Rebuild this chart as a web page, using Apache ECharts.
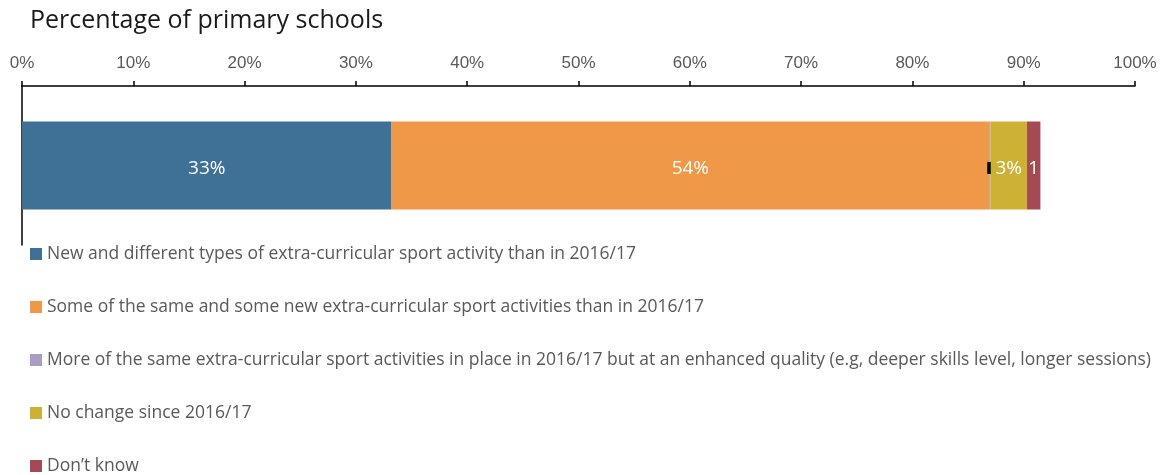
<!DOCTYPE html>
<html>
<head>
<meta charset="utf-8">
<script src="https://cdn.jsdelivr.net/npm/echarts@6/dist/echarts.min.js"></script>
<style>
  html, body { margin: 0; padding: 0; background: #fff; }
  #chart { width: 1164px; height: 475px; }
</style>
</head>
<body>
<div id="chart"></div>
<script>
// 資料
const categories = ["Primary schools"];
const seriesNames = [
  "New and different types of extra-curricular sport activity than in 2016/17",
  "Some of the same and some new extra-curricular sport activities than in 2016/17",
  "More of the same extra-curricular sport activities in place in 2016/17 but at an enhanced quality (e.g, deeper skills level, longer sessions)",
  "No change since 2016/17",
  "Don\u2019t know"
];
const seriesValues = [33.2, 53.7, 0.1, 3.3, 1.2];
const seriesColors = ["#3F7095", "#EE9848", "#A89CC2", "#CCB133", "#A34A55"];
const tickLabels = ["0%", "10%", "20%", "30%", "40%", "50%", "60%", "70%", "80%", "90%", "100%"];

const chart = echarts.init(document.getElementById("chart"));

const seriesArr = [];
seriesNames.forEach((name, i) => {
  seriesArr.push({
    name: name,
    type: "bar",
    stack: "total",
    barWidth: 88,
    data: [seriesValues[i]],
    itemStyle: { color: seriesColors[i] },
    label: i === 2
      ? {
          // 很小的那一段，原圖只看得到一個黑色的小記號
          show: true,
          position: "inside",
          color: "#000",
          fontSize: 10,
          fontWeight: "bold",
          offset: [1, 3],
          formatter: "\u258C",
        }
      : {
          show: true,
          position: "inside",
          color: "#fff",
          fontSize: 19,
          fontFamily: "Open Sans",
          overflow: "truncate",
          ellipsis: "",
          width: i === 4 ? 16 : 90,
          offset: [0, 3],
          formatter: (p) => Math.round(p.value) + "%",
        },
  });
});

const option = {
  animation: false,
  title: {
    text: "Percentage of primary schools",
    left: 25,
    top: 3,
    textStyle: { fontSize: 25, fontWeight: "normal", color: "#1a1a1a", fontFamily: "Open Sans" },
  },
  legend: {
    orient: "vertical",
    left: 25,
    top: 239,
    height: 300,
    icon: "rect",
    itemWidth: 12,
    itemHeight: 12,
    itemGap: 33,
    data: seriesNames,
    textStyle: { fontSize: 17.5, color: "#595959", fontFamily: "Open Sans", lineHeight: 20 },
  },
  grid: { left: 22, right: 29, top: 86, bottom: 230 },
  xAxis: {
    type: "value",
    position: "top",
    min: 0,
    max: 100,
    interval: 10,
    splitLine: { show: false },
    axisLine: { show: true, lineStyle: { color: "#000", width: 1.5 } },
    axisTick: { show: true, length: 5, lineStyle: { color: "#000", width: 1.5 } },
    axisLabel: {
      color: "#595959",
      fontSize: 17,
      fontFamily: "Liberation Sans",
      margin: 14,
      formatter: (v) => tickLabels[v / 10],
    },
  },
  yAxis: {
    type: "category",
    data: categories,
    axisLine: { show: true, lineStyle: { color: "#000", width: 1.5 } },
    axisTick: { show: false },
    axisLabel: { show: false },
  },
  series: seriesArr,
};
chart.setOption(option);
</script>
</body>
</html>
